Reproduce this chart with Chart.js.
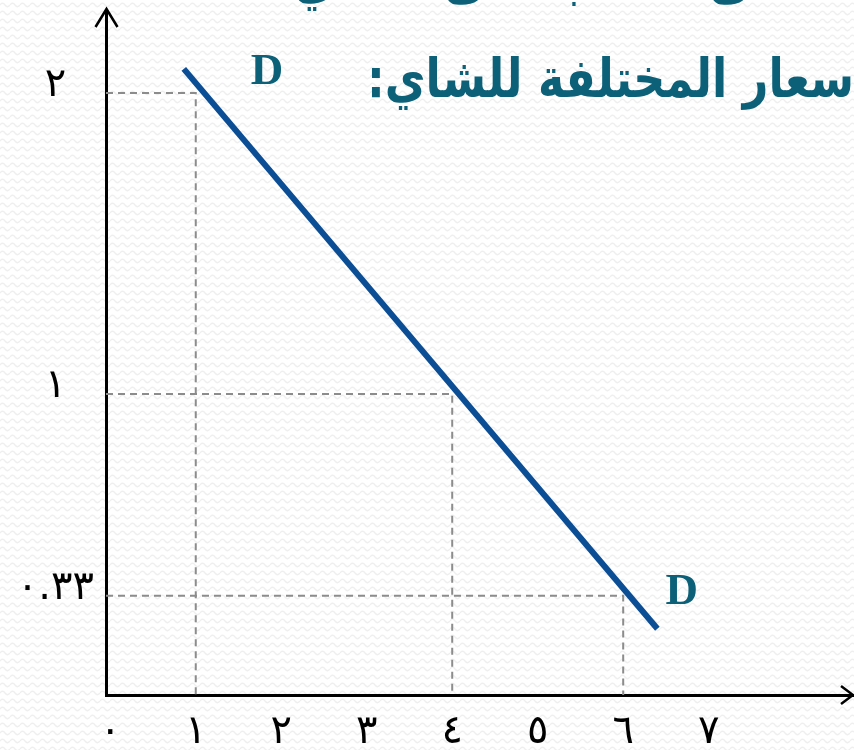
<!DOCTYPE html>
<html lang="ar">
<head>
<meta charset="utf-8">
<script src="https://cdn.jsdelivr.net/npm/chart.js@4.4.0/dist/chart.umd.min.js"></script>
<style>
  html, body { margin: 0; padding: 0; }
  body {
    width: 854px; height: 750px; overflow: hidden;
    background-color: #ffffff;
    background-image: url("data:image/svg+xml,%3Csvg xmlns='http://www.w3.org/2000/svg' width='10' height='8'%3E%3Cpath d='M0 5 Q2.5 1.5 5 5 T10 5' fill='none' stroke='%23efefef' stroke-width='1.3'/%3E%3C/svg%3E");
  }
  canvas { display: block; }
</style>
</head>
<body>
<canvas id="c" width="854" height="750"></canvas>
<script>
// ---- data ----
const titleLine1 = "منحنى الطلب على الشاي عند";
const titleLine2 = "الأسعار المختلفة للشاي:";
const titleVisible2 = "سعار المختلفة للشاي:";
const curveName = "D";
// demand curve end points (quantity, price)
const demandQ = [0.86, 6.4];
const demandP = [2.08, 0.22];
// highlighted points on the curve (quantity, price)
const pointQ = [1, 4, 6];
const pointP = [2, 1, 0.33];
// axis ticks
const xTicks = [0, 1, 2, 3, 4, 5, 6, 7];
const xTickLabels = ["٠", "١", "٢", "٣", "٤", "٥", "٦", "٧"];
const yTicks = [0.33, 1, 2];
const yTickLabels = ["٠.٣٣", "١", "٢"];

const X_MIN = -0.05, X_MAX = 8.7, Y_MIN = 0, Y_MAX = 2.269;

const TEAL = "#0C6179";
const BLUE = "#0B4E95";
const GUIDE = "#8c8c8c";

const demandData = demandQ.map((q, i) => ({ x: q, y: demandP[i] }));
const guideSets = pointQ.map((q, i) => ({
  type: "line",
  data: [{ x: X_MIN, y: pointP[i] }, { x: q, y: pointP[i] }, { x: q, y: 0 }],
  borderColor: GUIDE,
  borderWidth: 2,
  borderDash: [7, 5],
  pointRadius: 0,
  fill: false,
  tension: 0,
  order: 2
}));

const decor = {
  id: "decor",
  afterDraw(chart) {
    const ctx = chart.ctx;
    const xs = chart.scales.x, ys = chart.scales.y;
    const left = chart.chartArea.left, bottom = chart.chartArea.bottom;
    ctx.save();
    // axis arrows
    ctx.strokeStyle = "#000";
    ctx.lineWidth = 3;
    ctx.lineCap = "butt";
    ctx.beginPath();
    ctx.moveTo(left + 0.5, chart.chartArea.top + 2);
    ctx.lineTo(left + 0.5, 9);
    ctx.stroke();
    ctx.lineWidth = 2.5;
    ctx.beginPath();
    ctx.moveTo(left - 10.5, 27);
    ctx.lineTo(left + 0.5, 9);
    ctx.lineTo(left + 11.5, 27);
    ctx.stroke();
    ctx.beginPath();
    ctx.moveTo(841, bottom - 9);
    ctx.lineTo(853, bottom);
    ctx.lineTo(841, bottom + 9);
    ctx.stroke();

    // D labels
    ctx.fillStyle = TEAL;
    ctx.font = "bold 45px 'Liberation Serif', 'Times New Roman', serif";
    ctx.textAlign = "left";
    ctx.textBaseline = "alphabetic";
    const sx = xs.getPixelForValue(demandQ[0]), sy = ys.getPixelForValue(demandP[0]);
    const ex = xs.getPixelForValue(demandQ[1]), ey = ys.getPixelForValue(demandP[1]);
    ctx.fillText(curveName, sx + 67, sy + 15);
    ctx.fillText(curveName, ex + 8, ey - 25);

    // title text (partly outside the slide)
    ctx.font = "bold 54px 'DejaVu Sans', sans-serif";
    ctx.direction = "rtl";
    const w = ctx.measureText(titleVisible2).width;
    const k = 487 / w;
    ctx.save();
    ctx.translate(367, 97);
    ctx.scale(k, 1);
    ctx.textAlign = "left";
    ctx.fillText(titleLine2, 0, 0);
    ctx.restore();
    ctx.save();
    ctx.translate(850, -2);
    ctx.scale(k, 1);
    ctx.textAlign = "right";
    ctx.fillText(titleLine1, 0, 0);
    ctx.restore();
    ctx.restore();
  }
};

function noPad(s) {
  s.paddingTop = 0; s.paddingBottom = 0; s.paddingLeft = 0; s.paddingRight = 0;
}

new Chart(document.getElementById("c"), {
  type: "scatter",
  data: {
    datasets: [
      {
        type: "line",
        data: demandData,
        borderColor: BLUE,
        borderWidth: 6,
        borderCapStyle: "butt",
        pointRadius: 0,
        fill: false,
        tension: 0,
        order: 1
      },
      ...guideSets
    ]
  },
  options: {
    responsive: false,
    devicePixelRatio: 1,
    animation: false,
    events: [],
    layout: { padding: { top: 12, right: 0, left: 0, bottom: 0 } },
    plugins: { legend: { display: false }, tooltip: { enabled: false } },
    scales: {
      x: {
        type: "linear",
        min: X_MIN, max: X_MAX,
        grid: { display: false },
        border: { display: true, color: "#000", width: 3 },
        afterBuildTicks: (s) => { s.ticks = xTicks.map(v => ({ value: v })); },
        afterFit: (s) => { s.height = 55; noPad(s); },
        ticks: {
          autoSkip: false,
          maxRotation: 0,
          padding: 6,
          color: "#000",
          font: { family: "'DejaVu Sans', sans-serif", size: 40 },
          callback: (v) => { const i = xTicks.indexOf(v); return i >= 0 ? xTickLabels[i] : ""; }
        }
      },
      y: {
        type: "linear",
        min: Y_MIN, max: Y_MAX,
        grid: { display: false },
        border: { display: true, color: "#000", width: 3 },
        afterBuildTicks: (s) => { s.ticks = yTicks.map(v => ({ value: v })); },
        afterFit: (s) => { s.width = 106; noPad(s); },
        ticks: {
          autoSkip: false,
          padding: 4,
          crossAlign: "center",
          labelOffset: -7,
          color: "#000",
          font: { family: "'DejaVu Sans', sans-serif", size: 40 },
          callback: (v) => { const i = yTicks.indexOf(v); return i >= 0 ? yTickLabels[i] : ""; }
        }
      }
    }
  },
  plugins: [decor]
});
</script>
</body>
</html>
